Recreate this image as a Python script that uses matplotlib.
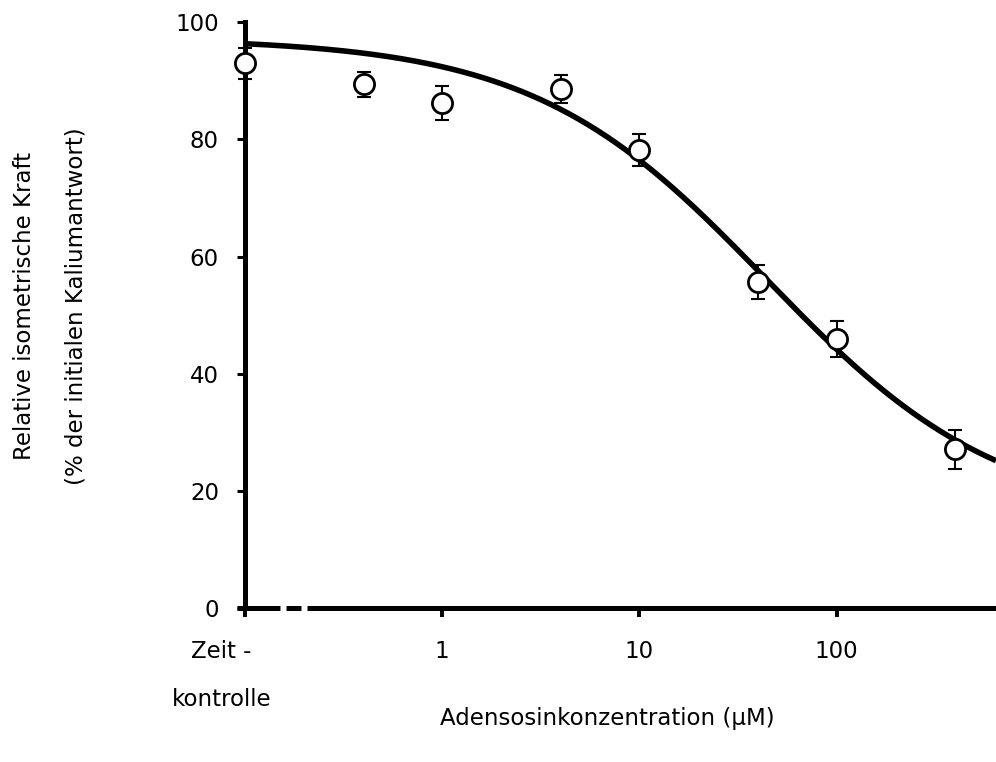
import numpy as np
import matplotlib
matplotlib.use("Agg")
import matplotlib.pyplot as plt
from matplotlib.ticker import NullLocator

plt.rcParams['font.family'] = ['DejaVu Sans']

# Adenosine concentrations (µM); the time control sits at the left axis origin
control_x = 0.1
concentrations = [0.4, 1, 4, 10, 40, 100, 400]
x_values = [control_x] + concentrations

# Relative isometric force (% of initial potassium response), mean ± SEM
force_mean = [93.0, 89.4, 86.2, 88.6, 78.2, 55.7, 45.9, 27.1]
force_sem = [2.6, 2.1, 2.9, 2.4, 2.8, 2.9, 3.1, 3.4]

# Four-parameter logistic fit
fit_top = 97.3
fit_bottom = 15.0
fit_ic50 = 44.0
fit_hill = 0.73

x_ticks = [0.1, 1, 10, 100]
x_ticklabels = ['', '1', '10', '100']
y_ticks = [0, 20, 40, 60, 80, 100]

W, H = 996, 762
fig = plt.figure(figsize=(W / 100, H / 100), dpi=100)
ax_left, ax_right, ax_top, ax_bottom = 245, 996, 22.3, 608.3
ax = fig.add_axes([ax_left / W, (H - ax_bottom) / H,
                   (ax_right - ax_left) / W, (ax_bottom - ax_top) / H])

x_max = 642
ax.set_xscale('log')
ax.set_xlim(control_x, x_max)
ax.set_ylim(0, 100)

for side in ('top', 'right', 'bottom'):
    ax.spines[side].set_visible(False)
ax.spines['left'].set_linewidth(3.6)

ax.set_xticks(x_ticks)
ax.set_xticklabels(x_ticklabels)
ax.xaxis.set_minor_locator(NullLocator())
ax.set_yticks(y_ticks)
ax.tick_params(axis='x', direction='out', length=6.8, width=2.8, pad=16,
               labelsize=16.5)
ax.tick_params(axis='y', direction='out', length=5.8, width=2.2, pad=13,
               labelsize=16.5)

# Broken x axis between the control and the concentration range
trans = ax.get_xaxis_transform()
axis_segments = [(0.091, 0.150), (0.161, 0.192), (0.206, x_max)]
for x0, x1 in axis_segments:
    ax.plot([x0, x1], [0, 0], transform=trans, color='black', lw=3.6,
            solid_capstyle='butt', clip_on=False, zorder=6)

# Error bars
eb = ax.errorbar(x_values, force_mean, yerr=force_sem, fmt='none',
                 ecolor='black', elinewidth=1.5, capsize=5, capthick=1.5,
                 zorder=3)
for art in eb.lines[1] + eb.lines[2]:
    art.set_clip_on(False)
for art in eb.lines[2]:
    art.set_clip_on(False)

# Fitted concentration-response curve
xc = np.logspace(np.log10(control_x), np.log10(x_max), 400)
yc = fit_bottom + (fit_top - fit_bottom) / (1 + (xc / fit_ic50) ** fit_hill)
ax.plot(xc, yc, color='black', lw=4, zorder=4, solid_capstyle='butt')

# Data points
ax.plot(x_values, force_mean, 'o', ms=14.5, mfc='white', mec='black',
        mew=2, zorder=5, clip_on=False)

# Control tick label and axis titles
fig.text(221 / W, 1 - 652 / H, 'Zeit -', ha='center', va='center',
         fontsize=16.5)
fig.text(222 / W, 1 - 700 / H, 'kontrolle', ha='center', va='center',
         fontsize=16.5)
fig.text(607 / W, 1 - 718 / H, 'Adensosinkonzentration (µM)',
         ha='center', va='center', fontsize=16.5)
fig.text(25 / W, 1 - 306 / H, 'Relative isometrische Kraft', rotation=90,
         ha='center', va='center', fontsize=16.5)
fig.text(76 / W, 1 - 306 / H, '(% der initialen Kaliumantwort)',
         rotation=90, ha='center', va='center', fontsize=16.5)

fig.savefig('out.png', dpi=100)
